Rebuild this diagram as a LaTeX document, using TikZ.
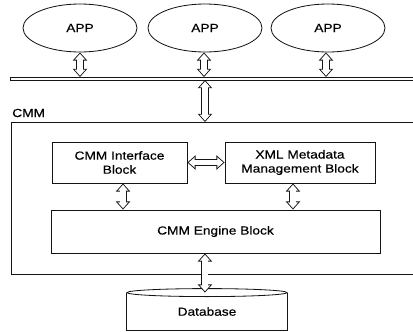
\documentclass[tikz,border=0pt]{standalone}
\usepackage{fontspec}
\setmainfont[FakeStretch=1.17,FakeBold=0.4]{Liberation Sans}
\usepackage{tikz}
\usetikzlibrary{arrows.meta,shapes.geometric}
\definecolor{cLine}{RGB}{20, 20, 20}

\begin{document}
\begin{tikzpicture}[x=0.03cm, y=-0.03cm, font=\fontsize{10}{12}\selectfont,
    line width=0.7pt, draw=cLine,
    appNode/.style={ellipse, draw, minimum width=3.42cm, minimum height=1.44cm},
    blockBox/.style={rectangle, draw, align=center, minimum height=1.23cm},
    % hollow block arrow: white core over a black outline
    dblArrow/.style={draw=white, line width=4.5pt,
      shorten <=1.15pt, shorten >=1.15pt,
      {Triangle[length=5.1pt,width=8.7pt]}-{Triangle[length=5.1pt,width=8.7pt]},
      preaction={draw=cLine, line width=6pt, shorten <=0pt, shorten >=0pt,
        {Triangle[length=7pt,width=12pt]}-{Triangle[length=7pt,width=12pt]}}}]

  \useasboundingbox (0,0) rectangle (413,332);

  % ---- applications ----
  \node[appNode] (app1) at (80,28)  {APP};
  \node[appNode] (app2) at (205,28) {APP};
  \node[appNode] (app3) at (328,28) {APP};

  % ---- bus (double line, open on the right) ----
  \draw (413,77) -- (10,77) -- (10,80) -- (413,80);
  \coordinate (bus1) at (80,77);
  \coordinate (bus2) at (204,77);
  \coordinate (bus3) at (326,77);
  \coordinate (busLow) at (205,80);

  \draw[dblArrow] (app1) -- (bus1);
  \draw[dblArrow] (app2.south -| bus2) -- (bus2);
  \draw[dblArrow] (app3.south -| bus3) -- (bus3);

  % ---- CMM frame (open on the right) ----
  \node[anchor=west] (cmmLabel) at (8,113) {CMM};
  \draw (413,122) -- (11,122) -- (11,274) -- (413,274);
  \coordinate (cmmTop) at (205,122);
  \draw[dblArrow] (busLow) -- (cmmTop);

  % ---- blocks inside CMM ----
  \node[blockBox, minimum width=4.05cm] (iface) at (119.5,162.5) {CMM Interface\\Block};
  \node[blockBox, minimum width=4.5cm]  (xml)   at (300,162.5)   {XML Metadata\\Management Block};
  \node[blockBox, minimum width=9.87cm, minimum height=1.29cm] (engine) at (215.5,231.5) {CMM Engine Block};

  \draw[dblArrow] (iface) -- (xml);
  \draw[dblArrow] ([xshift=3pt]iface.south) -- ([xshift=3pt]iface.south |- engine.north);
  \draw[dblArrow] ([xshift=-6pt]xml.south) -- ([xshift=-6pt]xml.south |- engine.north);

  % ---- database ----
  \node[minimum width=4.8cm, minimum height=1.11cm] (db) at (207,311.5) {Database};
  \draw (db.north west) -- (db.south west) -- (db.south east) -- (db.north east);
  \draw[fill=white] (db.north) ellipse [x radius=2.4cm, y radius=0.12cm];
  \draw[dblArrow] ([xshift=-9pt]engine.south) -- ([xshift=-9pt]engine.south |- db.north);

\end{tikzpicture}
\end{document}
